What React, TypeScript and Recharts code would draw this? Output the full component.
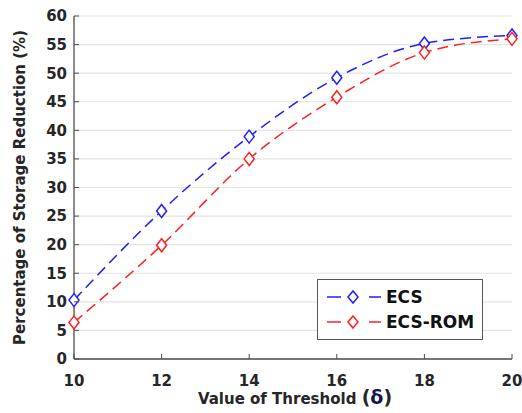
import React from 'react';
import {
  LineChart,
  Line,
  XAxis,
  YAxis,
  CartesianGrid,
  Legend,
} from 'recharts';

const thresholds = [10, 12, 14, 16, 18, 20];
const ecsValues = [10.3, 25.9, 38.9, 49.2, 55.2, 56.6];
const ecsRomValues = [6.4, 19.9, 35.0, 45.8, 53.6, 56.0];
const xTicks = [10, 12, 14, 16, 18, 20];
const yTicks = [0, 5, 10, 15, 20, 25, 30, 35, 40, 45, 50, 55, 60];

const seriesList = [
  { key: 'ecs', name: 'ECS', color: '#1f1fff' },
  { key: 'ecsRom', name: 'ECS-ROM', color: '#ff1f1f' },
];

const chartData = thresholds.map((t, i) => ({
  x: t,
  ecs: ecsValues[i],
  ecsRom: ecsRomValues[i],
}));

const FONT = '"DejaVu Sans", sans-serif';
const TEXT = '#262626';
const AXIS = '#4d4d4d';
const TICK_LEN = 5;

// diamond marker like matlab 'd'
const diamond = (color: string) => (props: any) => {
  const { cx, cy, index } = props;
  if (cx == null || cy == null) return <g key={index} />;
  return (
    <path
      key={index}
      d={`M${cx},${cy - 6.5} L${cx + 5},${cy} L${cx},${cy + 6.5} L${cx - 5},${cy} Z`}
      fill="#fff"
      stroke={color}
      strokeWidth={1.5}
    />
  );
};

const LeftTick = ({ x, y, payload }: any) => (
  <g>
    <line x1={x + 7} x2={x + 7 + TICK_LEN} y1={y} y2={y} stroke={AXIS} />
    <text x={x} y={y} dy="0.36em" textAnchor="end" fill={TEXT} fontFamily={FONT} fontWeight="bold" fontSize={15}>
      {payload.value}
    </text>
  </g>
);

const RightTick = ({ x, y }: any) => (
  <line x1={x} x2={x - TICK_LEN} y1={y} y2={y} stroke={AXIS} />
);

const BottomTick = ({ x, y, payload }: any) => (
  <g>
    <line x1={x} x2={x} y1={y - 16} y2={y - 16 - TICK_LEN} stroke={AXIS} />
    <text x={x} y={y} dy="0.71em" textAnchor="middle" fill={TEXT} fontFamily={FONT} fontWeight="bold" fontSize={15}>
      {payload.value}
    </text>
  </g>
);

const TopTick = ({ x, y }: any) => (
  <line x1={x} x2={x} y1={y} y2={y + TICK_LEN} stroke={AXIS} />
);

const LegendBox = () => (
  <svg width={166} height={61}>
    <rect x={0.5} y={0.5} width={165} height={60} fill="#fff" stroke="#555" />
    {seriesList.map((s, i) => {
      const cy = 18 + i * 25;
      return (
        <g key={s.key}>
          <line x1={10} x2={24} y1={cy} y2={cy} stroke={s.color} strokeWidth={1.5} />
          <line x1={52} x2={64} y1={cy} y2={cy} stroke={s.color} strokeWidth={1.5} />
          <path
            d={`M36,${cy - 6} L41,${cy} L36,${cy + 6} L31,${cy} Z`}
            fill="#fff"
            stroke={s.color}
            strokeWidth={1.5}
          />
          <text x={69} y={cy} dy="0.36em" fill="#111" fontFamily={FONT} fontWeight="bold" fontSize={17}>
            {s.name}
          </text>
        </g>
      );
    })}
  </svg>
);

export default function App() {
  return (
    <div style={{ position: 'absolute', left: 0, top: 0, width: 522, height: 413, background: '#fff' }}>
      <LineChart
        width={522}
        height={413}
        data={chartData}
        margin={{ top: 16, right: 10, bottom: 0, left: 0 }}
      >
        <CartesianGrid vertical={false} stroke="#e3e3e3" strokeWidth={1.2} />
        <XAxis
          dataKey="x"
          type="number"
          domain={[10, 20]}
          ticks={xTicks}
          height={54}
          tickSize={0}
          tickMargin={16}
          tick={<BottomTick />}
          axisLine={{ stroke: AXIS, strokeWidth: 1.3 }}
          tickLine={false}
          label={{
            content: (p: any) => {
              const vb = p.viewBox;
              return (
                <text
                  x={vb.x + vb.width / 2 + 2}
                  y={404}
                  textAnchor="middle"
                  fill={TEXT}
                  fontFamily={FONT}
                  fontWeight="bold"
                  fontSize={15}
                >
                  Value of Threshold <tspan fontSize={19}>(</tspan>
                  <tspan fontSize={19} fill="#14144a">δ</tspan>
                  <tspan fontSize={19}>)</tspan>
                </text>
              );
            },
          }}
        />
        <XAxis
          xAxisId="top"
          orientation="top"
          dataKey="x"
          type="number"
          domain={[10, 20]}
          ticks={xTicks}
          height={0}
          tickSize={0}
          tickMargin={0}
          tick={<TopTick />}
          tickLine={false}
          axisLine={{ stroke: AXIS, strokeWidth: 1.3 }}
        />
        <YAxis
          type="number"
          domain={[0, 60]}
          ticks={yTicks}
          width={74}
          tickSize={0}
          tickMargin={7}
          tick={<LeftTick />}
          tickLine={false}
          axisLine={{ stroke: AXIS, strokeWidth: 1.3 }}
          label={{
            content: (p: any) => {
              const vb = p.viewBox;
              const cy = vb.y + vb.height / 2;
              return (
                <text
                  x={25}
                  y={cy}
                  transform={`rotate(-90 25 ${cy})`}
                  textAnchor="middle"
                  fill={TEXT}
                  fontFamily={FONT}
                  fontWeight="bold"
                  fontSize={15}
                >
                  Percentage of Storage Reduction (%)
                </text>
              );
            },
          }}
        />
        <YAxis
          yAxisId="right"
          orientation="right"
          type="number"
          domain={[0, 60]}
          ticks={yTicks}
          width={0}
          tickSize={0}
          tickMargin={0}
          tick={<RightTick />}
          tickLine={false}
          axisLine={{ stroke: AXIS, strokeWidth: 1.3 }}
        />
        <Legend
          layout="vertical"
          align="center"
          verticalAlign="middle"
          content={<LegendBox />}
          wrapperStyle={{ left: 317, top: 279, width: 166, height: 61 }}
        />
        {seriesList.map((s) => (
          <Line
            key={s.key}
            type="monotone"
            dataKey={s.key}
            name={s.name}
            stroke={s.color}
            strokeWidth={1.5}
            strokeDasharray="11 6"
            dot={diamond(s.color)}
            activeDot={false}
            isAnimationActive={false}
          />
        ))}
      </LineChart>
    </div>
  );
}
